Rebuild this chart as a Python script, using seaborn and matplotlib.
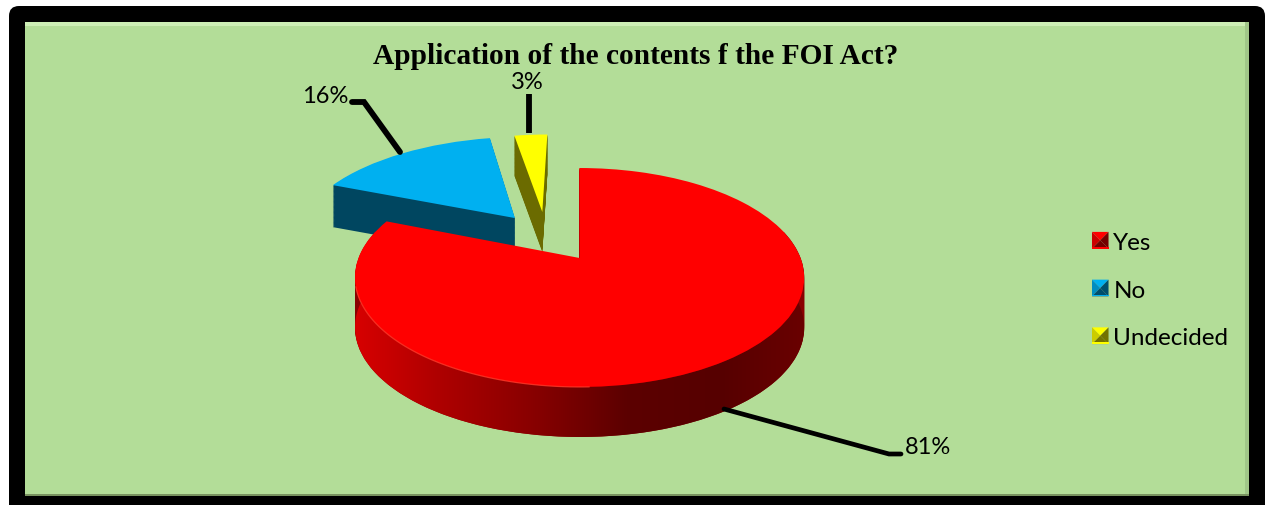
import numpy as np
import matplotlib
matplotlib.use('Agg')
import matplotlib.pyplot as plt
import matplotlib.transforms as mtrans
from matplotlib.colors import LinearSegmentedColormap, to_rgb
from matplotlib.legend_handler import HandlerBase
from matplotlib.patches import FancyBboxPatch, Patch, Polygon, Rectangle
import seaborn as sns

title = 'Application of the contents f the FOI Act?'
answers = ['Yes', 'No', 'Undecided']
shares = [81, 16, 3]

top_colors = sns.color_palette(['#ff0000', '#00b0f0', '#ffff00'])
side_colors = sns.color_palette(['#8a0000', '#004660', '#6b6b00'])
rim_colors = ['#dc0000', '#ae0000', '#880000', '#5c0000', '#560000', '#6c0000']
depths = [50, 42, 40]
radii = [1, 1.03, 1]
pull_x = [0.007, -0.306, -0.175]
pull_y = [0, 0.404, 0.47]
slice_z = [6, 3, 4]

# tilted disc: pixels per unit and how strong the perspective is
CX, CY, A, B, K = 578, 259, 221, 106, 0.178


class Tilt(mtrans.Transform):
    input_dims = 2
    output_dims = 2

    def __init__(self, drop=0):
        super().__init__()
        self.drop = drop

    def transform_non_affine(self, xy):
        xy = np.asarray(xy, dtype=float)
        w = 1 + K * xy[:, 1]
        return np.column_stack([CX + A * xy[:, 0] / w, CY - B * xy[:, 1] / w + self.drop])


class BevelHandler(HandlerBase):
    def create_artists(self, legend, handle, xd, yd, width, height, fontsize, trans):
        base = np.array(to_rgb(handle.get_facecolor()))
        dark = base * 0.45
        x0, y0 = -xd, -yd
        x1, y1 = x0 + width, y0 + height
        mid = ((x0 + x1) / 2, (y0 + y1) / 2)
        faces = [
            ([(x0, y1), (x1, y1), mid], base),
            ([(x0, y0), (x0, y1), mid], base * 0.8),
            ([(x1, y0), (x1, y1), mid], dark),
            ([(x0, y0), (x1, y0), mid], dark),
        ]
        out = [Polygon(p, closed=True, facecolor=c, linewidth=0, transform=trans) for p, c in faces]
        out.append(Rectangle((x0, y0), width, height * 0.1, facecolor=base, linewidth=0, transform=trans))
        return out


def draw_pie_layer(ax, fraction, colors, z_shift):
    wedges, _ = ax.pie(shares, colors=colors, startangle=90, counterclock=False,
                       wedgeprops={'linewidth': 0})
    for i, w in enumerate(wedges):
        w.set_center((pull_x[i], pull_y[i]))
        w.set_radius(radii[i])
        w.set_transform(Tilt(depths[i] * fraction) + ax.transData)
        w.set_zorder(slice_z[i] + z_shift)
    return wedges


def rim_points(theta, drop):
    xy = np.column_stack([pull_x[0] + np.cos(theta), np.sin(theta)])
    return Tilt(drop).transform(xy)


def main():
    sns.set_theme(style='white')
    plt.rcParams['font.family'] = ['Lato', 'DejaVu Sans']

    fig = plt.figure(figsize=(12.65, 5.06), dpi=100, facecolor='white')
    ax = fig.add_axes([0, 0, 1, 1])

    # frame and green plate
    ax.add_patch(FancyBboxPatch((17, 15), 1240, 500, boxstyle='round,pad=8,rounding_size=10',
                                facecolor='black', edgecolor='none', zorder=0))
    ax.add_patch(Rectangle((25, 23), 1224, 474, facecolor='#b3dd98', edgecolor='none', zorder=1))
    ax.add_patch(Rectangle((25, 23), 1224, 4, facecolor='#cdeeb5', edgecolor='none', zorder=1.1))
    ax.add_patch(Rectangle((1245, 23), 4, 474, facecolor='#a0c688', edgecolor='none', zorder=1.1))
    ax.add_patch(Rectangle((25, 495), 1224, 2, facecolor='#78925f', edgecolor='none', zorder=1.1))

    # pie body: stacked copies going down, then the top face
    for fraction in np.linspace(1, 0.02, 50):
        draw_pie_layer(ax, fraction, side_colors, -0.5)
    draw_pie_layer(ax, 0, top_colors, 1)

    # shaded rim of the big slice
    rim_cmap = LinearSegmentedColormap.from_list('rim', rim_colors)
    im = ax.imshow(np.linspace(0, 1, 256)[None, :], extent=(345, 815, 445, 200), cmap=rim_cmap,
                   aspect='auto', zorder=6.5)
    theta = np.radians(np.linspace(165, 375, 200))
    outline = np.vstack([rim_points(theta, 0), rim_points(theta, depths[0])[::-1]])
    im.set_clip_path(Polygon(outline, closed=True, transform=ax.transData))

    glow = rim_points(np.radians(np.linspace(195, 272, 60)), 0)
    ax.plot(glow[:, 0], glow[:, 1], color='#ff3a2a', lw=0.9, alpha=0.8, zorder=7.5)

    # leader lines
    ax.plot([724, 889, 901], [410, 455, 455], color='black', lw=3.4, solid_joinstyle='miter', zorder=8)
    ax.plot([400, 364, 352], [153, 103, 103], color='black', lw=4.2, solid_joinstyle='miter', zorder=8)
    ax.plot([528.5, 528.5], [95, 134], color='black', lw=4.2, solid_capstyle='butt', zorder=8)

    ax.text(905, 448, f'{shares[0]}%', fontsize=17, color='black', va='center', ha='left', zorder=9)
    ax.text(348, 96, f'{shares[1]}%', fontsize=17, color='black', va='center', ha='right', zorder=9)
    ax.text(527, 82, f'{shares[2]}%', fontsize=17, color='black', va='center', ha='center', zorder=9)

    ax.text(636, 56, title, fontsize=21.2, fontweight='bold', family='Liberation Serif',
            color='black', ha='center', va='center', zorder=9)

    handles = [Patch(facecolor=c) for c in top_colors]
    leg = ax.legend(handles, answers, handler_map={Patch: BevelHandler()}, frameon=False,
                    loc='center left', bbox_to_anchor=(1092, 291), bbox_transform=ax.transData,
                    fontsize=17.5, labelcolor='black', handlelength=0.68, handleheight=0.68,
                    handletextpad=0.2, labelspacing=1.1, borderpad=0, borderaxespad=0)
    leg.set_zorder(9)

    ax.set_aspect('auto')
    ax.set_xlim(0, 1265)
    ax.set_ylim(506, 0)
    ax.axis('off')

    fig.savefig('out.png', dpi=100)


if __name__ == "__main__":
    main()
